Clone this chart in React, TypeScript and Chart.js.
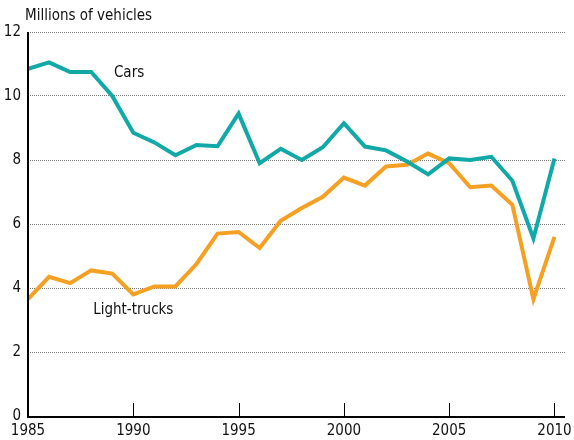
import React, { useEffect, useRef } from "react";
import { Chart, registerables } from "chart.js";

Chart.register(...registerables);

const years = [1985, 1986, 1987, 1988, 1989, 1990, 1991, 1992, 1993, 1994, 1995, 1996, 1997, 1998, 1999, 2000, 2001, 2002, 2003, 2004, 2005, 2006, 2007, 2008, 2009, 2010];
const cars = [10.85, 11.05, 10.75, 10.75, 10.0, 8.85, 8.55, 8.15, 8.47, 8.43, 9.45, 7.9, 8.35, 8.0, 8.4, 9.15, 8.42, 8.3, 7.95, 7.55, 8.05, 8.0, 8.1, 7.35, 5.55, 8.05];
const lightTrucks = [3.65, 4.35, 4.15, 4.55, 4.45, 3.8, 4.05, 4.05, 4.75, 5.7, 5.75, 5.25, 6.1, 6.5, 6.85, 7.45, 7.2, 7.8, 7.85, 8.2, 7.9, 7.15, 7.2, 6.6, 3.65, 5.6];
const xTicks = [1985, 1990, 1995, 2000, 2005, 2010];
const yTicks = [0, 2, 4, 6, 8, 10, 12];
const seriesNames = ["Cars", "Light-trucks"];
const labelPos = [
  { x: 1989.8, y: 10.7 },
  { x: 1990.0, y: 3.3 },
];
const yTitle = "Millions of vehicles";

const FONT = "'Liberation Sans Narrow', 'DejaVu Sans Condensed', 'Liberation Sans', sans-serif";
const TEAL = "#10A9A7";
const ORANGE = "#F5A023";

export default function App() {
  const ref = useRef<HTMLCanvasElement | null>(null);
  useEffect(() => {
    document.body.style.margin = "0";
    const canvas = ref.current!;
    const overlay = {
      id: "overlay",
      afterDraw(chart: any) {
        const ctx = chart.ctx;
        const xs = chart.scales.x;
        const ys = chart.scales.y;
        const area = chart.chartArea;
        ctx.save();
        ctx.strokeStyle = "#000";
        ctx.lineWidth = 1;
        xTicks.forEach((t) => {
          if (t === xTicks[0]) return;
          const px = Math.round(xs.getPixelForValue(t)) + 0.5;
          ctx.beginPath();
          ctx.moveTo(px, area.bottom);
          ctx.lineTo(px, area.bottom - 13);
          ctx.stroke();
        });
        ctx.lineWidth = 2;
        ctx.beginPath();
        ctx.moveTo(area.left, area.top);
        ctx.lineTo(area.left, area.bottom + 1);
        ctx.lineTo(area.right, area.bottom + 1);
        ctx.stroke();
        ctx.fillStyle = "#111";
        ctx.font = "15px " + FONT;
        ctx.textBaseline = "middle";
        ctx.textAlign = "left";
        ctx.fillText(yTitle, 25, 16);
        ctx.textAlign = "center";
        seriesNames.forEach((n, i) => {
          ctx.fillText(n, xs.getPixelForValue(labelPos[i].x), ys.getPixelForValue(labelPos[i].y));
        });
        ctx.restore();
      },
    };
    const chart = new Chart(canvas, {
      type: "line",
      data: {
        datasets: [
          {
            label: seriesNames[0],
            data: years.map((y, i) => ({ x: y, y: cars[i] })),
            borderColor: TEAL,
            borderWidth: 4,
            pointRadius: 0,
            tension: 0,
            borderJoinStyle: "miter",
          },
          {
            label: seriesNames[1],
            data: years.map((y, i) => ({ x: y, y: lightTrucks[i] })),
            borderColor: ORANGE,
            borderWidth: 4,
            pointRadius: 0,
            tension: 0,
            borderJoinStyle: "miter",
          },
        ],
      },
      options: {
        animation: false,
        responsive: false,
        devicePixelRatio: 1,
        layout: { padding: { top: 32, right: 9, left: 0, bottom: 0 } },
        plugins: { legend: { display: false }, tooltip: { enabled: false } },
        scales: {
          x: {
            type: "linear",
            min: 1985,
            max: 2010.5,
            afterBuildTicks: (s: any) => {
              s.ticks = xTicks.map((v) => ({ value: v }));
            },
            afterFit: (s: any) => {
              s.height = 24;
              s.paddingRight = 0;
              s.paddingLeft = 0;
            },
            grid: { display: false, drawTicks: false },
            border: { display: false },
            ticks: {
              color: "#111",
              font: { family: FONT, size: 15 },
              padding: 6,
              maxRotation: 0,
              autoSkip: false,
              callback: (v: any) => String(v),
            },
          },
          y: {
            min: 0,
            max: 12,
            afterBuildTicks: (s: any) => {
              s.ticks = yTicks.map((v) => ({ value: v }));
            },
            afterFit: (s: any) => {
              s.width = 28;
            },
            grid: {
              color: "#777777",
              lineWidth: 1,
              drawTicks: false,
            },
            border: { display: false, dash: [1, 1] },
            ticks: {
              color: "#111",
              font: { family: FONT, size: 15 },
              padding: 7,
            },
          },
        },
      },
      plugins: [overlay],
    } as any);
    return () => chart.destroy();
  }, []);
  return (
    <div style={{ width: 574, height: 440 }}>
      <canvas ref={ref} width={574} height={440} style={{ display: "block" }} />
    </div>
  );
}
